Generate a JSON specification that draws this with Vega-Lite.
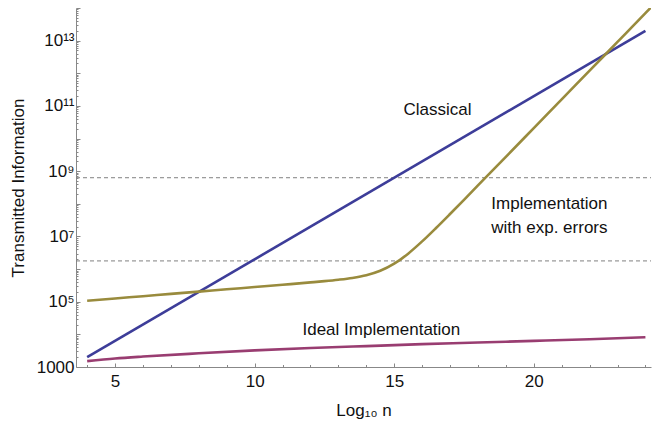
{
  "$schema": "https://vega.github.io/schema/vega-lite/v6.json",
  "width": 575,
  "height": 359,
  "autosize": "none",
  "padding": {"left": 76, "top": 8, "right": 3, "bottom": 55},
  "background": "white",
  "config": {
    "view": {"stroke": null},
    "font": "Liberation Sans",
    "axis": {
      "domainColor": "#888888",
      "domainWidth": 1,
      "tickColor": "#888888",
      "tickWidth": 1,
      "grid": false,
      "labelFont": "Liberation Sans",
      "labelFontSize": 17,
      "labelColor": "#111111",
      "titleFont": "Liberation Sans",
      "titleFontSize": 17,
      "titleFontWeight": "normal",
      "titleColor": "#111111",
      "labelOverlap": false,
      "labelFlush": false
    }
  },
  "datasets": {
    "curves": [
      {"x": 4, "y": 1995, "s": "Classical"},
      {"x": 24, "y": 1.995e13, "s": "Classical"},
      {"x": 4, "y": 1514, "s": "Ideal"},
      {"x": 5, "y": 1820, "s": "Ideal"},
      {"x": 6, "y": 2089, "s": "Ideal"},
      {"x": 8, "y": 2630, "s": "Ideal"},
      {"x": 10, "y": 3236, "s": "Ideal"},
      {"x": 12, "y": 3802, "s": "Ideal"},
      {"x": 14, "y": 4365, "s": "Ideal"},
      {"x": 16, "y": 5012, "s": "Ideal"},
      {"x": 18, "y": 5623, "s": "Ideal"},
      {"x": 20, "y": 6310, "s": "Ideal"},
      {"x": 22, "y": 7079, "s": "Ideal"},
      {"x": 24, "y": 8128, "s": "Ideal"},
      {"x": 4, "y": 107152, "s": "Errors"},
      {"x": 5, "y": 125893, "s": "Errors"},
      {"x": 6, "y": 147911, "s": "Errors"},
      {"x": 7, "y": 173780, "s": "Errors"},
      {"x": 8, "y": 204174, "s": "Errors"},
      {"x": 9, "y": 239883, "s": "Errors"},
      {"x": 10, "y": 281838, "s": "Errors"},
      {"x": 11, "y": 331131, "s": "Errors"},
      {"x": 12, "y": 390841, "s": "Errors"},
      {"x": 12.5, "y": 426580, "s": "Errors"},
      {"x": 13, "y": 472063, "s": "Errors"},
      {"x": 13.5, "y": 535797, "s": "Errors"},
      {"x": 14, "y": 647143, "s": "Errors"},
      {"x": 14.5, "y": 885116, "s": "Errors"},
      {"x": 15, "y": 1462177, "s": "Errors"},
      {"x": 15.5, "y": 2971767, "s": "Errors"},
      {"x": 16, "y": 7046931, "s": "Errors"},
      {"x": 16.5, "y": 1.8197e7, "s": "Errors"},
      {"x": 17, "y": 4.8753e7, "s": "Errors"},
      {"x": 17.5, "y": 1.3274e8, "s": "Errors"},
      {"x": 18, "y": 3.656e8, "s": "Errors"},
      {"x": 19, "y": 2.754e9, "s": "Errors"},
      {"x": 20, "y": 2.089e10, "s": "Errors"},
      {"x": 21, "y": 1.585e11, "s": "Errors"},
      {"x": 22, "y": 1.202e12, "s": "Errors"},
      {"x": 23, "y": 9.12e12, "s": "Errors"},
      {"x": 24, "y": 6.918e13, "s": "Errors"},
      {"x": 24.2, "y": 1.047e14, "s": "Errors"}
    ],
    "refs": [
      {"x": 3.6, "y": 6.3e8, "g": "upper"},
      {"x": 24.2, "y": 6.3e8, "g": "upper"},
      {"x": 3.6, "y": 1.78e6, "g": "lower"},
      {"x": 24.2, "y": 1.78e6, "g": "lower"}
    ],
    "labels": [
      {"x": 16.55, "y": 7.4e10, "t": "Classical"},
      {"x": 20.56, "y": 1.0e8, "t": "Implementation"},
      {"x": 20.56, "y": 1.78e7, "t": "with exp. errors"},
      {"x": 14.54, "y": 13650, "t": "Ideal Implementation"}
    ]
  },
  "encoding": {
    "x": {
      "field": "x", "type": "quantitative",
      "scale": {"domain": [3.6, 24.2], "nice": false, "zero": false},
      "axis": {
        "orient": "bottom",
        "title": "Log₁₀ n",
        "values": [4,5,6,7,8,9,10,11,12,13,14,15,16,17,18,19,20,21,22,23,24],
        "labelExpr": "datum.value % 5 == 0 ? datum.label : ''",
        "labelOverlap": false,
        "tickSize": {"condition": {"test": "datum.value % 5 == 0", "value": -4}, "value": -2.5},
        "labelPadding": 10,
        "titleY": 43,
        "titleBaseline": "middle"
      }
    },
    "y": {
      "field": "y", "type": "quantitative",
      "scale": {"type": "log", "domain": [1000, 1e14], "nice": false},
      "axis": {
        "orient": "left",
        "title": "Transmitted Information",
        "values": [1e3,2e3,3e3,4e3,5e3,6e3,7e3,8e3,9e3,1e4,2e4,3e4,4e4,5e4,6e4,7e4,8e4,9e4,1e5,2e5,3e5,4e5,5e5,6e5,7e5,8e5,9e5,1e6,2e6,3e6,4e6,5e6,6e6,7e6,8e6,9e6,1e7,2e7,3e7,4e7,5e7,6e7,7e7,8e7,9e7,1e8,2e8,3e8,4e8,5e8,6e8,7e8,8e8,9e8,1e9,2e9,3e9,4e9,5e9,6e9,7e9,8e9,9e9,1e10,2e10,3e10,4e10,5e10,6e10,7e10,8e10,9e10,1e11,2e11,3e11,4e11,5e11,6e11,7e11,8e11,9e11,1e12,2e12,3e12,4e12,5e12,6e12,7e12,8e12,9e12,1e13,2e13,3e13,4e13,5e13,6e13,7e13,8e13,9e13,1e14],
        "labelExpr": "abs(log(datum.value)/LN10 - round(log(datum.value)/LN10)) > 0.01 ? '' : (round(log(datum.value)/LN10) == 3 ? '1000' : round(log(datum.value)/LN10) == 5 ? '10⁵' : round(log(datum.value)/LN10) == 7 ? '10⁷' : round(log(datum.value)/LN10) == 9 ? '10⁹' : round(log(datum.value)/LN10) == 11 ? '10¹¹' : round(log(datum.value)/LN10) == 13 ? '10¹³' : '')",
        "labelOverlap": false,
        "tickSize": {"condition": {"test": "abs(log(datum.value)/LN10 - round(log(datum.value)/LN10)) < 0.01", "value": -4}, "value": -2},
        "labelPadding": 6,
        "titleX": -58,
        "titleY": 179.5,
        "titleBaseline": "middle"
      }
    }
  },
  "layer": [
    {
      "data": {"name": "refs"},
      "mark": {"type": "line", "strokeDash": [4, 3], "color": "#808080", "strokeWidth": 1},
      "encoding": {"detail": {"field": "g"}}
    },
    {
      "data": {"name": "curves"},
      "mark": {"type": "line", "strokeWidth": 2.6, "interpolate": "monotone", "clip": true},
      "encoding": {
        "color": {
          "field": "s", "type": "nominal",
          "scale": {"domain": ["Classical", "Ideal", "Errors"], "range": ["#3d3d99", "#993d71", "#998b3d"]},
          "legend": null
        }
      }
    },
    {
      "data": {"name": "labels"},
      "mark": {"type": "text", "font": "Liberation Sans", "fontSize": 17, "color": "#111111", "baseline": "middle", "align": "center"},
      "encoding": {"text": {"field": "t"}}
    }
  ]
}
